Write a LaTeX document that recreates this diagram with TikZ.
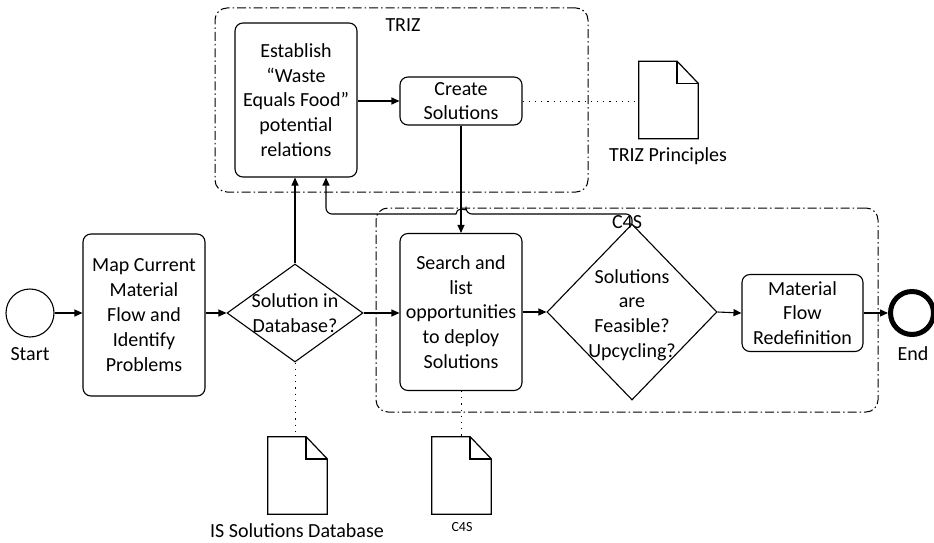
\documentclass[tikz,border=0pt]{standalone}
\usepackage{fontspec}
\setmainfont{Carlito}
\usetikzlibrary{arrows.meta,shapes.geometric,calc}

\tikzset{
  every node/.style={font=\fontsize{20pt}{24.8pt}\selectfont, align=center},
  flowline/.style={line width=1.1pt, -{Triangle[length=8pt,width=7pt]}},
  task/.style={draw, line width=1.1pt, rounded corners=8pt, rectangle, inner sep=0pt},
  decision/.style={draw, line width=1.1pt, diamond, inner sep=0pt},
  group/.style={draw, line width=1pt, rounded corners=12pt, inner sep=0pt,
    dash pattern=on 9pt off 3pt on 1.5pt off 3pt},
  assoc/.style={line width=1pt, dash pattern=on 1.2pt off 5pt},
  docbox/.style={minimum width=59pt, minimum height=77pt, inner sep=0pt},
}

% sheet of paper with a folded corner, drawn on a named docbox node
\newcommand\paperdoc[1]{%
  \draw[line width=1.2pt, fill=white] (#1.north west) -- ($(#1.north east)+(-21,0)$)
    -- ($(#1.north east)+(0,22)$) -- (#1.south east) -- (#1.south west) -- cycle;
  \draw[line width=1.6pt] ($(#1.north east)+(-21,0)$) |- ($(#1.north east)+(0,22)$);}

\begin{document}
\begin{tikzpicture}[x=1pt,y=-1pt]
\useasboundingbox (0,0) rectangle (934,543);

% pools
\node[group, minimum width=373pt, minimum height=184pt] (trizgrp) at (401.5,100) {};
\node (trizlbl) at (403,25) {TRIZ};
\node[group, minimum width=502pt, minimum height=204pt] (c4sgrp) at (627,310) {};

% events
\node[circle, draw, line width=1.1pt, minimum size=48pt, inner sep=0pt] (start) at (30,313) {};
\node (startlbl) at (30,354) {Start};
\node[circle, draw, line width=5pt, minimum size=43pt, inner sep=0pt] (end) at (912,313) {};
\node (endlbl) at (913,354) {End};

% activities
\node[task, minimum width=122pt, minimum height=162pt] (map) at (144,315) {Map Current\\Material\\Flow and\\Identify\\Problems};
\node[decision, minimum width=136pt, minimum height=98pt] (db) at (295,313) {};
\node (dbtxt) at (295,313) {Solution in\\Database?};
\node[task, minimum width=122pt, minimum height=154pt] (est) at (296,100) {Establish\\``Waste\\Equals Food''\\potential\\relations};
\node[task, minimum width=122pt, minimum height=48pt] (create) at (461,101) {Create\\Solutions};
\node[task, minimum width=122pt, minimum height=157pt] (search) at (461,312) {Search and\\list\\opportunities\\to deploy\\Solutions};
\node[decision, minimum width=170pt, minimum height=176pt] (fz) at (632,312) {};
\node (fztxt) at (632,315) {Solutions\\are\\Feasible?\\Upcycling?};
\node[task, minimum width=121pt, minimum height=77pt] (redef) at (802.5,313) {Material\\Flow\\Redefinition};

\node (c4slbl) at (627,222) {C4S};

% data objects
\node[docbox] (isdoc) at (297.5,475.5) {};
\paperdoc{isdoc}
\node (isdoclbl) at (297,531) {IS Solutions Database};
\node[docbox] (c4sdoc) at (461.5,475.5) {};
\paperdoc{c4sdoc}
\node[font=\fontsize{14pt}{16pt}\selectfont] (c4sdoclbl) at (462,527) {C4S};
\node[docbox] (trizdoc) at (668.5,100) {};
\paperdoc{trizdoc}
\node (trizdoclbl) at (668,156) {TRIZ Principles};

% sequence flows
\draw[flowline] (start) -- (start -| map.west);
\draw[flowline] (start -| map.east) -- (db.west);
\draw[flowline] (db.north) -- (db.north |- est.south);
\draw[flowline] (est.east |- create.west) -- (create.west);
\draw[flowline] (create.south) -- (search.north);
\draw[flowline] (db.east) -- (db.east -| search.west);
\draw[flowline] (search.east) -- (fz.west);
\draw[flowline] (fz.east) -- (redef.west);
\draw[flowline] (redef.east) -- (end.west);

% loop back from the feasibility check, hopping over the vertical flow
\coordinate (looprow) at (0,214);
\coordinate (hopR) at ($(create.south |- looprow)+(5,0)$);
\coordinate (loopin) at ($(est.south)+(30,0)$);
\draw[flowline, rounded corners=6pt] (fz.north) |- (hopR)
  [sharp corners] arc[start angle=0, end angle=180, radius=5pt]
  [rounded corners=6pt] -| (loopin);

% associations
\draw[assoc] (db.south) -- (db.south |- isdoc.north);
\draw[assoc] (search.south) -- (search.south |- c4sdoc.north);
\draw[assoc] (create.east) -- (create.east -| trizdoc.west);
\end{tikzpicture}
\end{document}
